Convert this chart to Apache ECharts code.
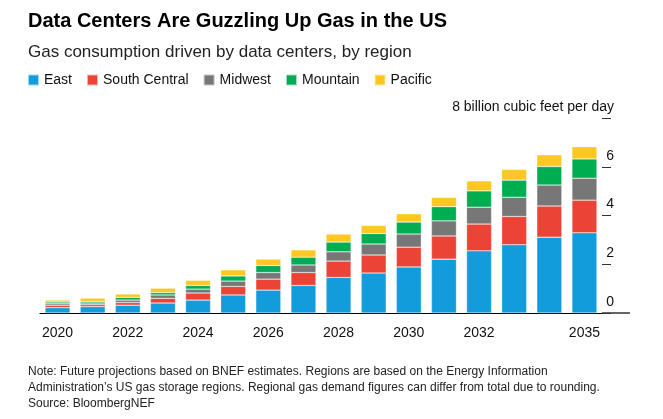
<!DOCTYPE html>
<html><head><meta charset="utf-8">
<script src="https://cdn.jsdelivr.net/npm/echarts@6/dist/echarts.min.js"></script>
<style>html,body{margin:0;padding:0;background:#fff}#c{width:663px;height:419px}</style>
</head><body><div id="c"></div>
<script>
const years = ['2020','2021','2022','2023','2024','2025','2026','2027','2028','2029','2030','2031','2032','2033','2034','2035'];
const shownYears = ['2020','2022','2024','2026','2028','2030','2032','2035'];
const east = [0.22,0.26,0.32,0.41,0.53,0.74,0.94,1.13,1.46,1.64,1.89,2.21,2.55,2.80,3.11,3.29];
const southCentral = [0.10,0.08,0.11,0.19,0.29,0.35,0.45,0.53,0.67,0.74,0.81,0.95,1.10,1.16,1.28,1.34];
const midwest = [0.06,0.07,0.10,0.14,0.16,0.22,0.27,0.31,0.38,0.45,0.54,0.62,0.69,0.79,0.86,0.90];
const mountain = [0.07,0.06,0.11,0.10,0.15,0.21,0.29,0.32,0.40,0.43,0.49,0.58,0.67,0.70,0.76,0.79];
const pacific = [0.08,0.14,0.14,0.18,0.21,0.25,0.26,0.30,0.33,0.33,0.34,0.38,0.41,0.44,0.48,0.50];
const yTicks = [0,2,4,6,8];
const unitLabel = 'billion cubic feet per day';

const chart = echarts.init(document.getElementById('c'));
const F = 'Liberation Sans, Arial, sans-serif';
function s(name, data, color){
  return {name, type:'bar', stack:'a', data, barWidth:25, itemStyle:{color, borderColor:'rgba(255,255,255,0.6)', borderWidth:0.5}};
}
chart.setOption({
  animation:false,
  textStyle:{fontFamily:F},
  title:[{text:'Data Centers Are Guzzling Up Gas in the US', left:23, top:6, textStyle:{fontSize:20, fontWeight:'bold', color:'#000', fontFamily:F}},
         {text:'Gas consumption driven by data centers, by region', left:23, top:39, textStyle:{fontSize:17, fontWeight:'normal', color:'#222', fontFamily:F}}],
  legend:{left:22, top:68, itemWidth:11, itemHeight:11, itemGap:14, icon:'rect', textStyle:{fontSize:14, color:'#111'}},
  grid:{left:40, right:61, top:118, bottom:106},
  xAxis:{type:'category', data:years, axisLine:{lineStyle:{color:'#000', width:1.2}},
    axisTick:{alignWithLabel:true, length:6, lineStyle:{color:'#333'}, interval:(i,v)=>shownYears.includes(v)},
    axisLabel:{interval:(i,v)=>shownYears.includes(v), fontSize:14, color:'#111', margin:13}},
  yAxis:{type:'value', position:'right', min:0, max:8, interval:2, splitLine:{show:false}, axisLine:{show:false},
    axisTick:{show:true, length:9, lineStyle:{color:'#333'}},
    axisLabel:{inside:false, align:'right', verticalAlign:'bottom', margin:12, padding:[0,0,4,0], fontSize:14, color:'#111',
      formatter:v=> v===yTicks[yTicks.length-1] ? v+' '+unitLabel : String(v)}},
  graphic:[{type:'line', shape:{x1:602,y1:313,x2:630,y2:313}, style:{stroke:'#000', lineWidth:1.2}},
    {type:'text', left:28, top:364, style:{text:'Note: Future projections based on BNEF estimates. Regions are based on the Energy Information\nAdministration\u2019s US gas storage regions. Regional gas demand figures can differ from total due to rounding.\nSource: BloombergNEF', fontSize:12, lineHeight:16, fill:'#222', fontFamily:F}}],
  series:[s('East',east,'#129cdb'), s('South Central',southCentral,'#ec4337'), s('Midwest',midwest,'#777777'), s('Mountain',mountain,'#00ad50'), s('Pacific',pacific,'#fec820')]
});
</script></body></html>
